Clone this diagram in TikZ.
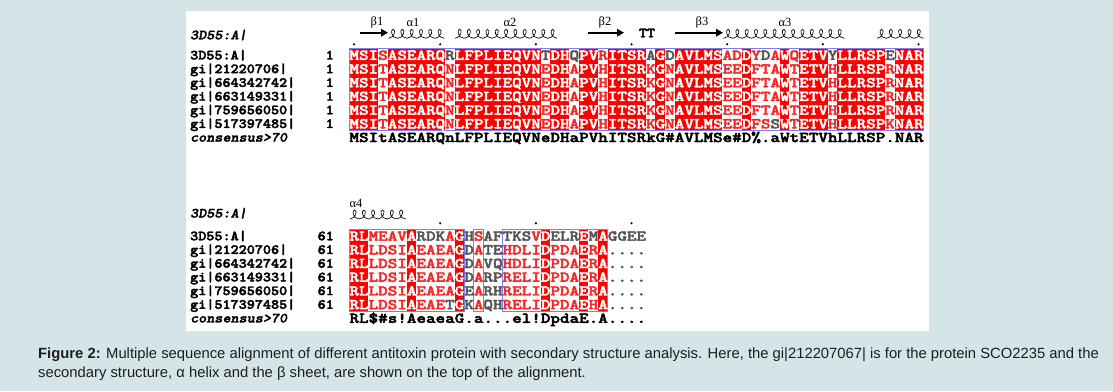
\documentclass[tikz,border=0pt]{standalone}
\usepackage{graphicx}
\usepackage{fontspec}
\setmainfont{Liberation Sans}
\newfontfamily\greekfont{Liberation Serif}
\newfontfamily\seqfont{lmmonolt10-bold}[Extension=.otf, FakeBold=2.5]
\newfontfamily\seqfontit{lmmonolt10-boldoblique}[Extension=.otf, FakeBold=2]
\usetikzlibrary{arrows.meta}

\definecolor{pagebg}{RGB}{213,228,230}
\definecolor{idred}{RGB}{255,0,0}
\definecolor{simred}{RGB}{245,40,40}
\definecolor{difgray}{RGB}{85,85,85}
\definecolor{simblue}{RGB}{125,125,240}
\definecolor{captext}{RGB}{30,30,30}

\newcommand\idc[1]{\textcolor{white}{#1}}
\newcommand\smc[1]{\textcolor{simred}{#1}}
\newcommand\nsc[1]{\textcolor{difgray}{#1}}
\newcommand\seqtext[1]{\scalebox{1.215}[1]{#1}}
\newcommand\nametext[1]{\scalebox{1.1}[1]{#1}}
\def\colw{9.567}
\def\rowh{13.7}
\def\xzero{349.3}

\tikzset{
  seq/.style={font=\fontsize{15}{16}\selectfont\seqfont, inner sep=0pt, anchor=base west},
  seqname/.style={font=\fontsize{14}{14}\selectfont\seqfont, inner sep=0pt, anchor=base west},
  seqhead/.style={font=\fontsize{14}{14}\selectfont\seqfontit, inner sep=0pt, anchor=base west},
  seqnum/.style={font=\fontsize{14}{14}\selectfont\seqfont, inner sep=0pt, anchor=base east},
  idbox/.style={fill=idred},
  simframe/.style={draw=simblue, line width=0.9pt},
  helixloop/.pic={\draw[line width=0.65pt] (0,0) .. controls (5.5,0) and (8,-9) .. (4.6,-9) .. controls (1.5,-9) and (2.8,0) .. (9.3,0);},
  strand/.style={line width=1.9pt, -{Triangle[length=7pt,width=7.5pt]}},
  sslabel/.style={font=\greekfont\fontsize{12.5}{13}\selectfont, inner sep=0pt},
  rulerdot/.style={circle, fill=black, inner sep=0pt, minimum size=2.4pt},
  caption/.style={font=\fontsize{14.8}{15}\selectfont, text=captext, inner sep=0pt, anchor=base west}
}

\begin{document}
\begin{tikzpicture}[x=1pt, y=-1pt]
\useasboundingbox (0,0) rectangle (1113,391);
\fill[pagebg] (0,0) rectangle (1113,391);
\fill[white] (186,11) rectangle (929,330.5);

% names and start numbers of both blocks
\foreach \top/\num/\hy in {48.4/1/39.3, 229.2/61/217.5}{
  \node[seqhead] (head\num) at (190,\hy) {\nametext{3D55:A|}};
  \foreach \lab [count=\i] in {3D55:A|, gi|21220706|, gi|664342742|, gi|663149331|, gi|759656050|, gi|517397485|}{
    \node[seqname] (name\num-\i) at (190,{\top+(\i-0.5)*\rowh+4.2}) {\nametext{\lab}};
    \node[seqnum] (num\num-\i) at (334,{\top+(\i-0.5)*\rowh+4.2}) {\nametext{\num}};
  }
  \node[seqhead] (cons\num) at (190,{\top+6.5*\rowh+4.2}) {\nametext{consensus>70}};
}

% block 1
\foreach \a/\b in {1/3,5/10,12/20,22/23,25/26,28/31,33/33,35/39,42/42,46/46,48/50,52/56,58/60}
  \fill[idbox] ({\xzero+(\a-1)*\colw},48.4) rectangle ({\xzero+\b*\colw},{48.4+6*\rowh});
\draw[simframe] (\xzero,48.4) rectangle ({\xzero+60*\colw},{48.4+6*\rowh});
\foreach \s [count=\i] in {
  {\idc{MSI}\smc{S}\idc{ASEARQ}\nsc{R}\idc{LFPLIEQVN}\nsc{T}\idc{DH}\nsc{Q}\idc{PV}\smc{R}\idc{ITSR}\nsc{A}\idc{G}\nsc{D}\idc{AVLMS}\smc{AD}\idc{D}\smc{Y}\nsc{D}\smc{A}\idc{W}\smc{Q}\idc{ETV}\nsc{Y}\idc{LLRSP}\nsc{E}\idc{NAR}},
  {\idc{MSI}\smc{T}\idc{ASEARQ}\smc{N}\idc{LFPLIEQVN}\smc{E}\idc{DH}\smc{A}\idc{PV}\smc{H}\idc{ITSR}\smc{K}\idc{G}\smc{N}\idc{AVLMS}\smc{EE}\idc{D}\smc{FTA}\idc{W}\smc{T}\idc{ETV}\smc{H}\idc{LLRSP}\smc{R}\idc{NAR}},
  {\idc{MSI}\smc{T}\idc{ASEARQ}\smc{N}\idc{LFPLIEQVN}\smc{E}\idc{DH}\smc{A}\idc{PV}\smc{H}\idc{ITSR}\smc{K}\idc{G}\smc{N}\idc{AVLMS}\smc{EE}\idc{D}\smc{FTA}\idc{W}\smc{T}\idc{ETV}\smc{H}\idc{LLRSP}\smc{R}\idc{NAR}},
  {\idc{MSI}\smc{T}\idc{ASEARQ}\smc{N}\idc{LFPLIEQVN}\smc{E}\idc{DH}\smc{A}\idc{PV}\smc{H}\idc{ITSR}\smc{K}\idc{G}\smc{N}\idc{AVLMS}\smc{EE}\idc{D}\smc{FTA}\idc{W}\smc{T}\idc{ETV}\smc{H}\idc{LLRSP}\smc{R}\idc{NAR}},
  {\idc{MSI}\smc{T}\idc{ASEARQ}\smc{N}\idc{LFPLIEQVN}\smc{E}\idc{DH}\smc{A}\idc{PV}\smc{H}\idc{ITSR}\smc{K}\idc{G}\smc{N}\idc{AVLMS}\smc{EE}\idc{D}\smc{FTA}\idc{W}\smc{T}\idc{ETV}\smc{H}\idc{LLRSP}\smc{R}\idc{NAR}},
  {\idc{MSI}\smc{T}\idc{ASEARQ}\smc{N}\idc{LFPLIEQVN}\smc{E}\idc{DH}\smc{A}\idc{PV}\smc{H}\idc{ITSR}\smc{K}\idc{G}\smc{N}\idc{AVLMS}\smc{EE}\idc{D}\smc{FS}\nsc{S}\idc{W}\smc{T}\idc{ETV}\smc{H}\idc{LLRSP}\smc{K}\idc{NAR}}}
  \node[seq] (seqA\i) at (\xzero,{48.4+(\i-0.5)*\rowh+4.6}) {\seqtext{\s}};
\node[seq] (consA) at (\xzero,{48.4+6.5*\rowh+4.6}) {\seqtext{MSItASEARQnLFPLIEQVNeDHaPVhITSRkG\#AVLMSe\#D\%.aWtETVhLLRSP.NAR}};
\foreach \c in {1,10,20,30,40,50,60}
  \node[rulerdot] at ({\xzero+(\c-0.5)*\colw},44.3) {};

% secondary structure of block 1
\draw[strand] (360,32.7) -- (388,32.7);
\node[sslabel] (b1) at (377,22) {β1};
\node[sslabel] (a1) at (413,22) {α1};
\node[sslabel] (a2) at (510,22) {α2};
\draw[strand] (588,32.7) -- (624,32.7);
\node[sslabel] (b2) at (605,22) {β2};
\node[seqname, anchor=center] (turn) at (647,33) {\nametext{TT}};
\draw[strand] (675,32.7) -- (723,32.7);
\node[sslabel] (b3) at (702,22) {β3};
\node[sslabel] (a3) at (785,22) {α3};

% block 2
\foreach \a/\b in {1/2,7/7,12/12,21/21,25/25,27/27}
  \fill[idbox] ({\xzero+(\a-1)*\colw},229.2) rectangle ({\xzero+\b*\colw},{229.2+6*\rowh});
\foreach \a/\b in {1/12,14/14,17/27}
  \draw[simframe] ({\xzero+(\a-1)*\colw},229.2) rectangle ({\xzero+\b*\colw},{229.2+6*\rowh});
\foreach \s [count=\i] in {
  {\idc{RL}\smc{MEAV}\idc{A}\nsc{RDK}\smc{A}\idc{G}\nsc{H}\smc{S}\nsc{AFTKS}\smc{V}\idc{D}\nsc{ELR}\idc{E}\nsc{M}\idc{A}\nsc{GGEE}},
  {\idc{RL}\smc{LDSI}\idc{A}\smc{EAEA}\idc{G}\nsc{D}\smc{A}\nsc{TE}\smc{HDLI}\idc{D}\smc{PDA}\idc{E}\smc{R}\idc{A}\nsc{....}},
  {\idc{RL}\smc{LDSI}\idc{A}\smc{EAEA}\idc{G}\nsc{D}\smc{A}\nsc{VQ}\smc{HDLI}\idc{D}\smc{PDA}\idc{E}\smc{R}\idc{A}\nsc{....}},
  {\idc{RL}\smc{LDSI}\idc{A}\smc{EAEA}\idc{G}\nsc{D}\smc{A}\nsc{RP}\smc{RELI}\idc{D}\smc{PDA}\idc{E}\smc{R}\idc{A}\nsc{....}},
  {\idc{RL}\smc{LDSI}\idc{A}\smc{EAEA}\idc{G}\nsc{E}\smc{A}\nsc{RH}\smc{RELI}\idc{D}\smc{PDA}\idc{E}\smc{R}\idc{A}\nsc{....}},
  {\idc{RL}\smc{LDSI}\idc{A}\smc{EAE}\nsc{T}\idc{G}\nsc{K}\smc{A}\nsc{QH}\smc{RELI}\idc{D}\smc{PDA}\idc{E}\smc{H}\idc{A}\nsc{....}}}
  \node[seq] (seqB\i) at (\xzero,{229.2+(\i-0.5)*\rowh+4.6}) {\seqtext{\s}};
\node[seq] (consB) at (\xzero,{229.2+6.5*\rowh+4.6}) {\seqtext{RL\$\#s!AeaeaG.a...el!DpdaE.A....}};
\foreach \c in {10,20,30}
  \node[rulerdot] at ({\xzero+(\c-0.5)*\colw},223.2) {};
\node[sslabel] (a4) at (356,203) {α4};

% helices: start x / loops / baseline
\foreach \x/\n/\y in {388.5/6/38.3, 455/11/38.3, 723.5/13/38.3, 877/5/38.3, 350/6/219}
  \foreach \k in {1,...,\n}
    \pic at ({\x+(\k-1)*9.3},\y) {helixloop};

% caption
\node[caption] (cap1) at (38,358) {\textbf{Figure 2:} Multiple sequence alignment of different antitoxin protein with secondary structure analysis. Here, the gi|212207067| is for the protein SCO2235 and the};
\node[caption] (cap2) at (38,377) {secondary structure, α helix and the β sheet, are shown on the top of the alignment.};
\end{tikzpicture}
\end{document}
